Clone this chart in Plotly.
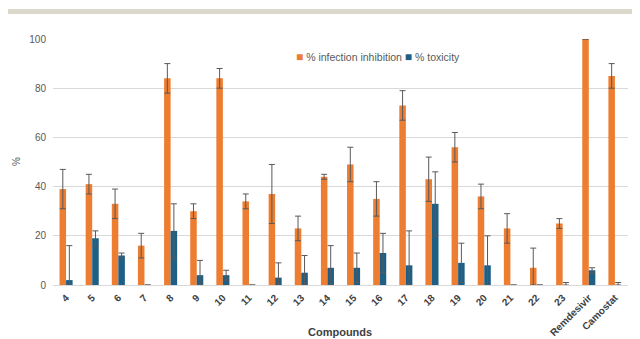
import plotly.graph_objects as go

compounds = ["4", "5", "6", "7", "8", "9", "10", "11", "12", "13", "14", "15",
             "16", "17", "18", "19", "20", "21", "22", "23", "Remdesivir", "Camostat"]
inhibition = [39, 41, 33, 16, 84, 30, 84, 34, 37, 23, 44, 49, 35, 73, 43, 56, 36, 23, 7, 25, 100, 85]
inhibition_err = [8, 4, 6, 5, 6, 3, 4, 3, 12, 5, 1, 7, 7, 6, 9, 6, 5, 6, 8, 2, 0, 5]
toxicity = [2, 19, 12, 0, 22, 4, 4, 0, 3, 5, 7, 7, 13, 8, 33, 9, 8, 0, 0, 0, 6, 0]
toxicity_err = [14, 3, 1, 0, 11, 6, 2, 0, 6, 7, 9, 6, 8, 14, 13, 8, 12, 0, 0, 1, 1, 1]

orange = "#ED7D31"
blue = "#1F5F86"
errc = "#595959"

def minus(vals, errs):
    return [min(v, e) for v, e in zip(vals, errs)]

fig = go.Figure()
fig.add_trace(go.Bar(
    x=compounds, y=inhibition, name="% infection inhibition",
    marker=dict(color=orange, line=dict(width=0)),
    error_y=dict(type="data", array=inhibition_err,
                 arrayminus=minus(inhibition, inhibition_err),
                 symmetric=False, color=errc, thickness=1, width=3),
))
fig.add_trace(go.Bar(
    x=compounds, y=toxicity, name="% toxicity",
    marker=dict(color=blue, line=dict(width=0)),
    error_y=dict(type="data", array=toxicity_err,
                 arrayminus=minus(toxicity, toxicity_err),
                 symmetric=False, color=errc, thickness=1, width=3),
))

# plot area (figure px): left 45, right 620, top 31, bottom 277
L, R, T, B = 45, 620, 31, 277
W, H = R - L, B - T

def px(x):
    return (x - L) / W

def py(y):
    return (B - y) / H

legend_text = (f'<span style="color:{orange};font-size:12px">■</span> % infection inhibition '
               f'<span style="color:{blue};font-size:12px">■</span> % toxicity')

fig.update_layout(
    width=640, height=339,
    margin=dict(l=L, r=640 - R, t=T, b=339 - B),
    paper_bgcolor="white", plot_bgcolor="white",
    barmode="group", bargap=0.5, bargroupgap=0,
    showlegend=False,
    font=dict(family="Liberation Sans, Arial, sans-serif", color="#595959", size=10),
    xaxis=dict(
        tickangle=-45, tickfont=dict(size=10, color="#404040", weight="bold"), automargin=False,
        showline=True, linecolor="#d9d9d9", linewidth=1, ticks="", ticklabelstandoff=2,
    ),
    yaxis=dict(
        range=[0, 100], dtick=20, showgrid=True, gridcolor="#d9d9d9", gridwidth=1,
        zeroline=False, showline=False, ticks="", automargin=False,
        tickfont=dict(size=10, color="#595959"), ticklabelstandoff=6,
    ),
    annotations=[
        dict(text=legend_text, xref="paper", yref="paper", x=px(286), y=py(49),
             xanchor="left", yanchor="middle", showarrow=False,
             font=dict(size=10.5, color="#595959")),
        dict(text="<b>Compounds</b>", xref="paper", yref="paper", x=px(332), y=py(324),
             xanchor="center", yanchor="middle", showarrow=False,
             font=dict(size=11, color="#404040")),
        dict(text="%", xref="paper", yref="paper", x=px(8), y=py(154), textangle=-90,
             xanchor="center", yanchor="middle", showarrow=False,
             font=dict(size=10, color="#595959")),
    ],
    shapes=[dict(type="rect", xref="paper", yref="paper",
                 x0=px(-10), x1=px(660), y0=py(1), y1=py(6),
                 fillcolor="#dcd8cc", line=dict(width=0), layer="above")],
)

fig.write_html("out.html")
